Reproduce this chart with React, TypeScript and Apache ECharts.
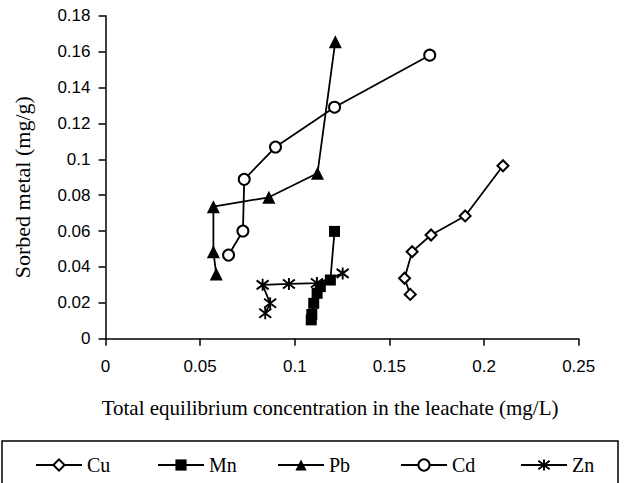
import React, { useEffect, useRef } from "react";
import * as echarts from "echarts";

const seriesNames = ["Cu", "Mn", "Pb", "Cd", "Zn"];

const cuX = [0.161, 0.158, 0.162, 0.172, 0.19, 0.21];
const cuY = [0.0247, 0.0337, 0.0485, 0.0578, 0.0684, 0.0964];

const mnX = [0.1087, 0.109, 0.11, 0.1118, 0.1135, 0.1188, 0.121];
const mnY = [0.0105, 0.0135, 0.0197, 0.0253, 0.029, 0.0327, 0.0598];

const pbX = [0.0585, 0.057, 0.057, 0.0863, 0.112, 0.1214];
const pbY = [0.036, 0.0485, 0.0736, 0.0788, 0.0922, 0.1655];

const cdX = [0.065, 0.0726, 0.0733, 0.0898, 0.121, 0.1713];
const cdY = [0.0466, 0.06, 0.0888, 0.1068, 0.129, 0.158];

const znX = [0.0844, 0.087, 0.083, 0.0969, 0.1117, 0.1253];
const znY = [0.0142, 0.0197, 0.03, 0.0305, 0.031, 0.0364];

const xTitle = "Total equilibrium concentration in the leachate (mg/L)";
const yTitle = "Sorbed metal (mg/g)";

const zip = (xs: number[], ys: number[]) => xs.map((x, i) => [x, ys[i]]);

const SANS = "'Liberation Sans', Arial, sans-serif";
const SERIF = "'Liberation Serif', 'Times New Roman', serif";
const STAR = "path://M0,-1L0,1M-0.8,-0.75L0.8,0.75M-0.8,0.75L0.8,-0.75";

export default function App() {
  const ref = useRef<HTMLDivElement>(null);
  useEffect(() => {
    if (!ref.current) return;
    const chart = echarts.init(ref.current, null, { renderer: "svg" });
    const lineStyle = { color: "#000", width: 1.8 };
    const mk = (name: string, data: number[][], symbol: string, size: number, itemStyle: any) => ({
      name,
      type: "line",
      data,
      symbol,
      symbolSize: size,
      showSymbol: true,
      lineStyle,
      itemStyle,
      emphasis: { disabled: true },
    });
    const legendLefts = [35, 157, 277, 400, 520];
    chart.setOption({
      animation: false,
      textStyle: { fontFamily: SERIF },
      grid: { left: 105.5, top: 15.7, right: 45.3, bottom: 144.3, containLabel: false },
      xAxis: {
        type: "value",
        min: 0,
        max: 0.25,
        interval: 0.05,
        name: xTitle,
        nameLocation: "middle",
        nameGap: 59,
        nameTextStyle: { fontFamily: SERIF, fontSize: 21, color: "#000", padding: [0, 24, 0, 0] },
        axisLine: { show: true, lineStyle: { color: "#000", width: 1.5 } },
        axisTick: { show: true, length: 7, lineStyle: { color: "#000", width: 1.5 } },
        axisLabel: { fontFamily: SANS, fontSize: 17, color: "#000", margin: 19 },
        splitLine: { show: false },
      },
      yAxis: {
        type: "value",
        min: 0,
        max: 0.18,
        interval: 0.02,
        name: yTitle,
        nameLocation: "middle",
        nameGap: 72,
        nameTextStyle: { fontFamily: SERIF, fontSize: 22, color: "#000", padding: [0, 20, 0, 0] },
        axisLine: { show: true, lineStyle: { color: "#000", width: 1.5 } },
        axisTick: { show: true, length: 7, lineStyle: { color: "#000", width: 1.5 } },
        axisLabel: { fontFamily: SANS, fontSize: 17, color: "#000", margin: 15 },
        splitLine: { show: false },
      },
      legend: seriesNames.map((n, i) => ({
        data: [n],
        left: legendLefts[i],
        top: 455,
        itemWidth: 46,
        itemHeight: 14,
        itemGap: 0,
        padding: 0,
        textStyle: { fontFamily: SERIF, fontSize: 20, color: "#000" },
      })),
      graphic: [
        {
          type: "rect",
          shape: { x: 2, y: 441, width: 616, height: 60 },
          style: { fill: "none", stroke: "#000", lineWidth: 1.5 },
          z: -1,
        },
      ],
      series: [
        mk("Cu", zip(cuX, cuY), "emptyDiamond", 11, { color: "#000", borderColor: "#000", borderWidth: 1.7 }),
        mk("Mn", zip(mnX, mnY), "rect", 11, { color: "#000" }),
        mk("Pb", zip(pbX, pbY), "triangle", 13, { color: "#000" }),
        mk("Cd", zip(cdX, cdY), "emptyCircle", 11, { color: "#000", borderColor: "#000", borderWidth: 1.7 }),
        mk("Zn", zip(znX, znY), STAR, 12, { color: "#000", borderColor: "#000", borderWidth: 1.9 }),
      ],
    });
    return () => chart.dispose();
  }, []);
  return (
    <div
      ref={ref}
      style={{ position: "fixed", left: 0, top: 0, width: 624, height: 483, background: "#fff" }}
    />
  );
}
